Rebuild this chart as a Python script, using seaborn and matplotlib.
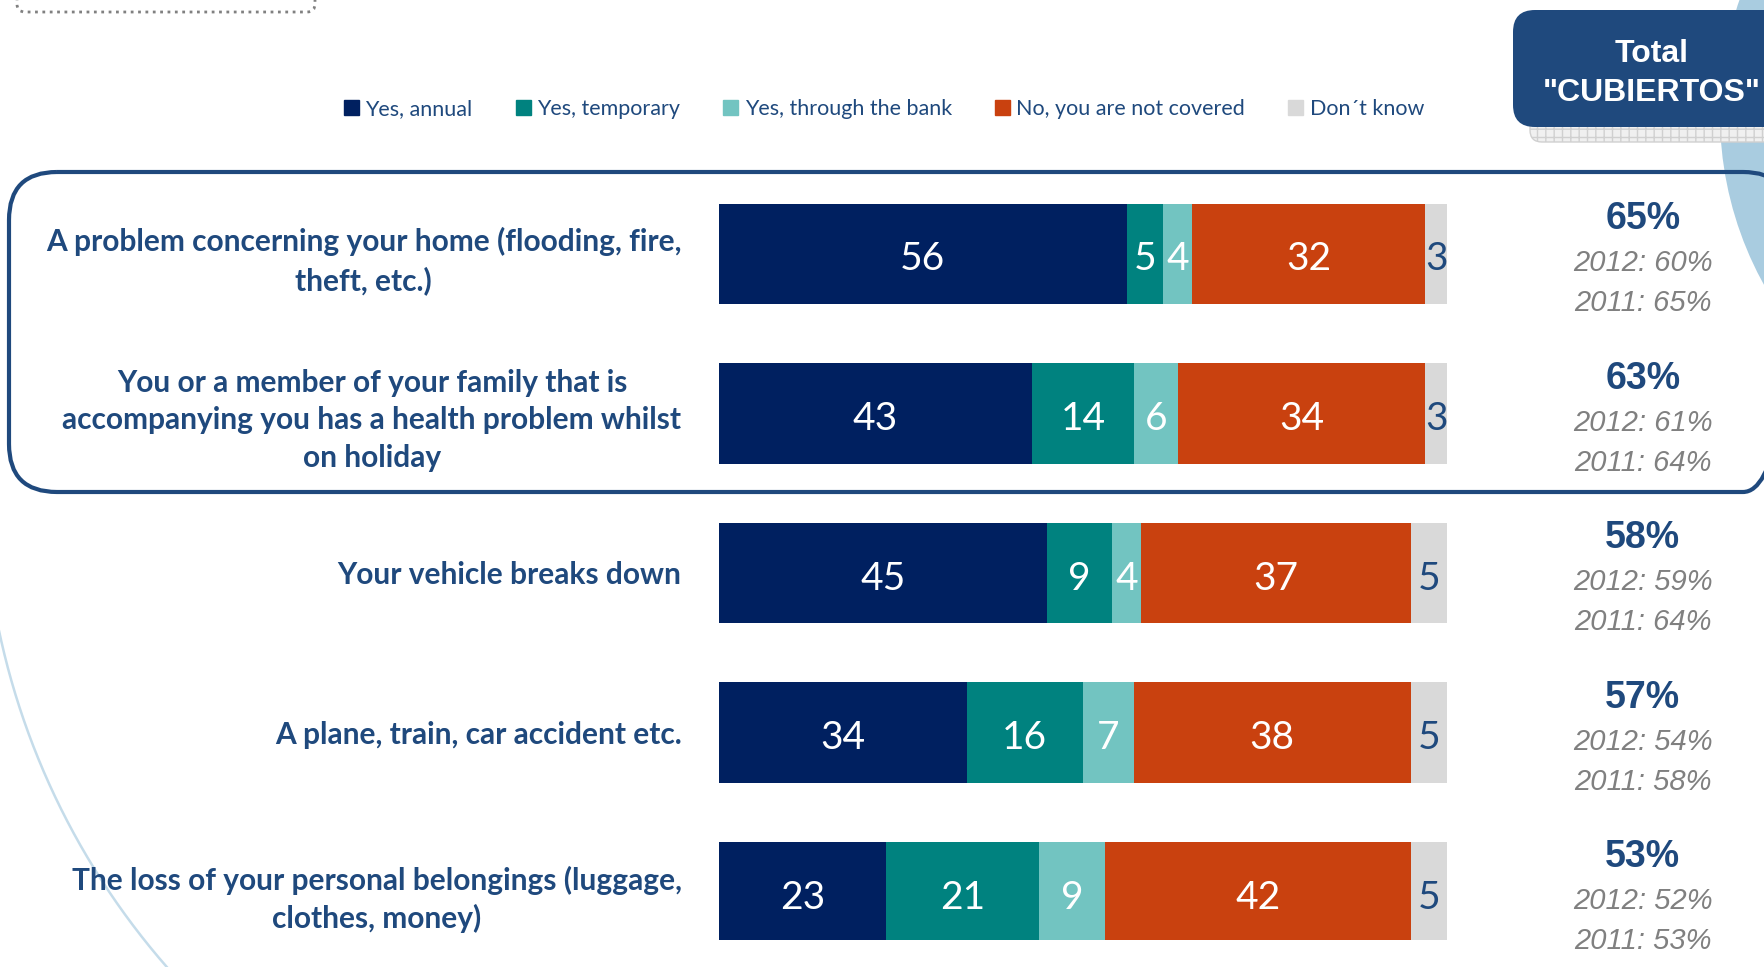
import numpy as np
import pandas as pd
import matplotlib.pyplot as plt
import matplotlib.patches as mpatches
import seaborn as sns

sns.set_style("white")
plt.rcParams['font.family'] = ['Lato', 'DejaVu Sans']

### data
categories = [
    "A problem concerning your home (flooding, fire,\ntheft, etc.)",
    "You or a member of your family that is\naccompanying you has a health problem whilst\non holiday",
    "Your vehicle breaks down",
    "A plane, train, car accident etc.",
    "The loss of your personal belongings (luggage,\nclothes, money)",
]
series_names = ["Yes, annual", "Yes, temporary", "Yes, through the bank",
                "No, you are not covered", "Don\u00b4t know"]
yes_annual = [56, 43, 45, 34, 23]
yes_temporary = [5, 14, 9, 16, 21]
yes_bank = [4, 6, 4, 7, 9]
not_covered = [32, 34, 37, 38, 42]
dont_know = [3, 3, 5, 5, 5]

total_covered = ["65%", "63%", "58%", "57%", "53%"]
covered_2012 = ["2012: 60%", "2012: 61%", "2012: 59%", "2012: 54%", "2012: 52%"]
covered_2011 = ["2011: 65%", "2011: 64%", "2011: 64%", "2011: 58%", "2011: 53%"]

colors = ["#002060", "#00827F", "#72C4C1", "#C9410F", "#D9D9D9"]
blue_txt = "#1F497D"

W, H = 1764, 967
fig = plt.figure(figsize=(W / 100, H / 100), dpi=100)

### decoration layer, pixel coords
bg = fig.add_axes([0, 0, 1, 1], zorder=0)
bg.set_xlim(0, W)
bg.set_ylim(H, 0)
bg.axis("off")

bg.add_patch(mpatches.Circle((2070, 115), 350, facecolor="#A9CCE0",
                             edgecolor="none", zorder=1))
t = np.radians(np.linspace(128, 170, 200))
bg.plot(728 + 745 * np.cos(t), 477 + 745 * np.sin(t), color="#C5DCEA",
        lw=1.8, zorder=1)

bg.add_patch(mpatches.FancyBboxPatch((17, -40), 298, 52,
                                     boxstyle="round,pad=0,rounding_size=8",
                                     facecolor="none", edgecolor="#808080",
                                     lw=2, ls=":", zorder=2))

# total box + its hatched shadow
bg.add_patch(mpatches.FancyBboxPatch((1530, 100), 300, 42,
                                     boxstyle="round,pad=0,rounding_size=12",
                                     facecolor="#F0F0F0", edgecolor="#D0D0D0",
                                     hatch="++", lw=1, zorder=2))
bg.add_patch(mpatches.FancyBboxPatch((1513, 10), 300, 117,
                                     boxstyle="round,pad=0,rounding_size=22",
                                     facecolor="#1F497D", edgecolor="none",
                                     zorder=3))
bg.text(1652, 54, "Total", color="white", fontsize=23, fontweight="bold",
        family="Liberation Sans", ha="center", va="center", zorder=4)
bg.text(1652, 93, '"CUBIERTOS"', color="white", fontsize=23,
        fontweight="bold", family="Liberation Sans", ha="center",
        va="center", zorder=4)

# highlight frame around first two rows
bg.add_patch(mpatches.FancyBboxPatch((9, 172), 1782, 320,
                                     boxstyle="round,pad=0,rounding_size=48",
                                     facecolor="none", edgecolor="#1F497D",
                                     lw=3, zorder=2))

### bars
ax = fig.add_axes([719 / W, 1 - 940 / H, 728 / W, 766 / H], zorder=1)
ax.patch.set_alpha(0)

values = np.array([yes_annual, yes_temporary, yes_bank, not_covered, dont_know])
cum = values.cumsum(axis=0)
df = pd.DataFrame({"category": categories})
for i, name in enumerate(series_names):
    df[name] = cum[i]

for i in range(len(series_names) - 1, -1, -1):
    sns.barplot(data=df, x=series_names[i], y="category", order=categories,
                color=colors[i], saturation=1, width=0.63, linewidth=0,
                orient="h", ax=ax)

for r in range(len(categories)):
    for i in range(len(series_names)):
        mid = cum[i, r] - values[i, r] / 2
        c = blue_txt if i == len(series_names) - 1 else "white"
        ax.text(mid, r + 0.035, str(values[i, r]), color=c, fontsize=28,
                ha="center", va="center")

ax.set_xlim(0, 100)
ax.set_ylim(4.3, -0.5)
ax.set_xlabel("")
ax.set_ylabel("")
ax.set_xticks([])
ax.set_yticks(range(len(categories)))
ax.set_yticklabels(categories, fontsize=21.5, fontweight="bold",
                   color=blue_txt, multialignment="center", linespacing=1.4)
ax.tick_params(axis="y", length=0, pad=27)
sns.despine(ax=ax, left=True, bottom=True)

# right column: total covered and previous years
for r in range(len(categories)):
    ax.text(126.9, r - 0.218, total_covered[r], color=blue_txt, fontsize=27,
            fontweight="bold", family="Liberation Sans", ha="center",
            va="center", clip_on=False)
    ax.text(126.9, r + 0.058, covered_2012[r], color="#808080", fontsize=21,
            style="italic", family="Liberation Sans", ha="center",
            va="center", clip_on=False)
    ax.text(126.9, r + 0.308, covered_2011[r], color="#808080", fontsize=21,
            style="italic", family="Liberation Sans", ha="center",
            va="center", clip_on=False)

handles = [mpatches.Patch(color=colors[i], label=series_names[i])
           for i in range(len(series_names))]
fig.legend(handles=handles, loc="center", bbox_to_anchor=(884 / W, 1 - 109 / H),
           ncol=5, frameon=False, fontsize=15.5, handlelength=0.7,
           handleheight=0.7, handletextpad=0.3, columnspacing=2.0,
           labelcolor=blue_txt)

plt.savefig("out.png", dpi=100)
plt.close()
